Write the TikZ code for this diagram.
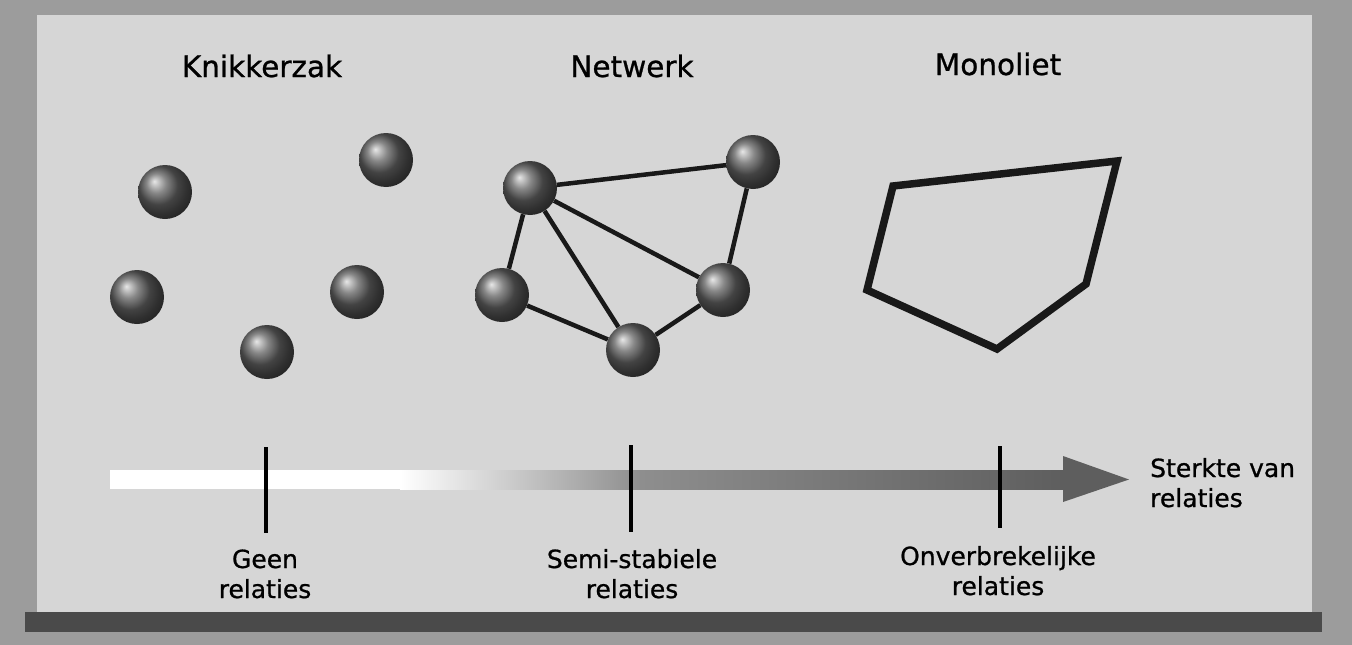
\documentclass[tikz,border=0pt]{standalone}
\usepackage{fontspec}
\setmainfont{DejaVu Sans}[FakeBold=0.8]
\definecolor{framegray}{HTML}{9C9C9C}
\definecolor{panelgray}{HTML}{D6D6D6}
\definecolor{shadowgray}{HTML}{4A4A4A}
\definecolor{arrowmid}{HTML}{8E8E8E}
\definecolor{arrowdark}{HTML}{5E5E5E}
\begin{document}
\begin{tikzpicture}[x=1pt,y=-1pt,
  title/.style={font=\fontsize{29.5}{34}\selectfont, anchor=base, inner sep=0pt},
  lbl/.style={font=\fontsize{25}{30}\selectfont, align=center, anchor=base, inner sep=0pt},
  marble/.style={circle, inner sep=0pt, minimum size=54pt, shading=ball, ball color=gray!75!black},
  link/.style={line width=4.5pt, black!90},
  tickmark/.style={line width=3.5pt, black},
  slab/.style={line width=7.5pt, line join=miter, black!90}]
\useasboundingbox (0,0) rectangle (1352,645);

% frame, panel and the shadow under the panel
\fill[framegray] (0,0) rectangle (1352,645);
\fill[shadowgray] (25,612) rectangle (1322,632);
\fill[panelgray] (37,15) rectangle (1312,612);

% headings
\node[title] (knik) at (262,77) {Knikkerzak};
\node[title] (netw) at (632,77) {Netwerk};
\node[title] (mono) at (998,75) {Monoliet};

% loose marbles
\node[marble] (m1) at (165,192) {};
\node[marble] (m2) at (386,160) {};
\node[marble] (m3) at (137,297) {};
\node[marble] (m4) at (357,292) {};
\node[marble] (m5) at (267,352) {};

% network of marbles
\node[marble] (na) at (530,188) {};
\node[marble] (nb) at (753,162) {};
\node[marble] (nc) at (502,295) {};
\node[marble] (nd) at (633,350) {};
\node[marble] (ne) at (723,290) {};
\draw[link] (na) -- (nb);
\draw[link] (na) -- (nc);
\draw[link] (na) -- (nd);
\draw[link] (na) -- (ne);
\draw[link] (nb) -- (ne);
\draw[link] (nc) -- (nd);
\draw[link] (nd) -- (ne);

% monolith
\coordinate (p1) at (893,186);
\coordinate (p2) at (1117,161);
\coordinate (p3) at (1086,284);
\coordinate (p4) at (997,349);
\coordinate (p5) at (867,290);
\draw[slab] (p1) -- (p2) -- (p3) -- (p4) -- (p5) -- cycle;

% strength scale
\fill[white] (110,470) rectangle (400,489);
\shade[left color=white, right color=arrowmid] (400,470) rectangle (640,489);
\shade[left color=arrowmid, right color=arrowdark] (640,470) rectangle (1064,489);
\coordinate (h1) at (1063,456);
\coordinate (h2) at (1129,479.5);
\coordinate (h3) at (1063,502);
\fill[arrowdark] (1063,470) -- (h1) -- (h2) -- (h3) -- (1063,489) -- cycle;

\coordinate (t1a) at (266,447);
\coordinate (t1b) at (266,533);
\coordinate (t2a) at (631,445);
\coordinate (t2b) at (631,532);
\coordinate (t3a) at (1000,446);
\coordinate (t3b) at (1000,528);
\draw[tickmark] (t1a) -- (t1b);
\draw[tickmark] (t2a) -- (t2b);
\draw[tickmark] (t3a) -- (t3b);

% scale labels (anchored on the baseline of the last line)
\node[lbl] (geen) at (265,598) {Geen\\relaties};
\node[lbl] (semi) at (632,598) {Semi-stabiele\\relaties};
\node[lbl] (onv) at (998,595) {Onverbrekelijke\\relaties};
\node[lbl, align=left, anchor=base west] (sterk) at (1150,507) {Sterkte van\\relaties};
\end{tikzpicture}
\end{document}
